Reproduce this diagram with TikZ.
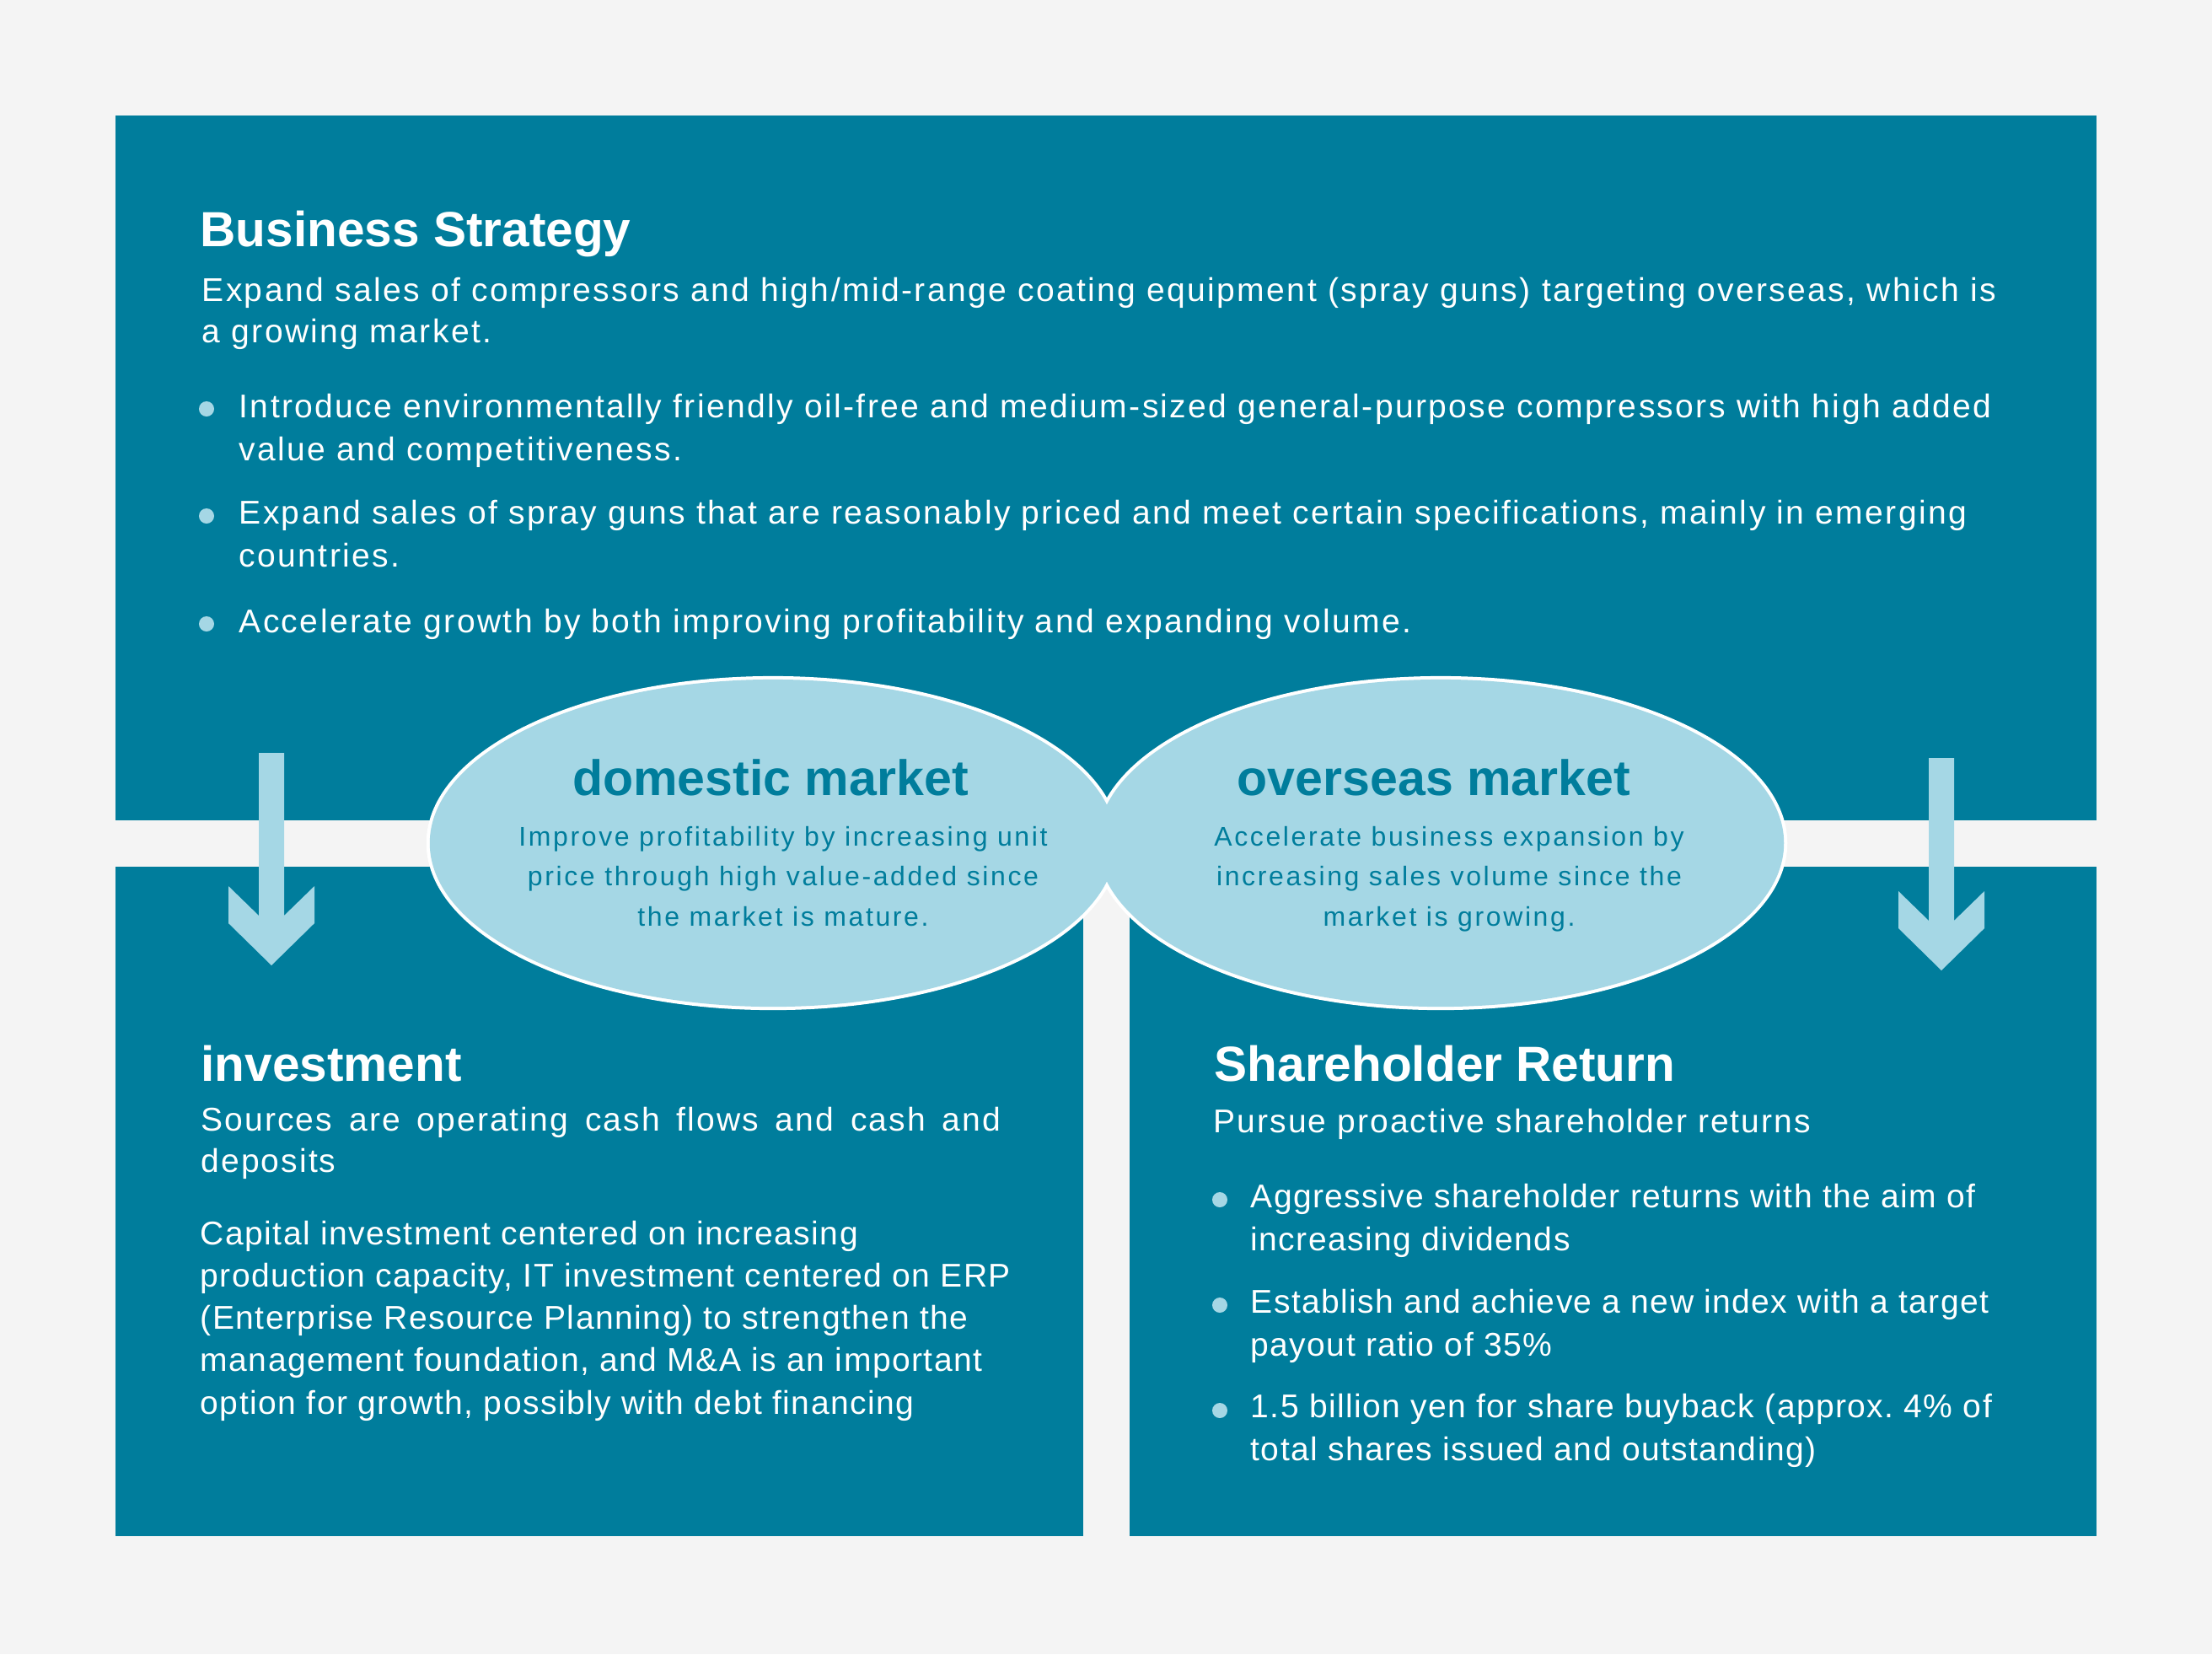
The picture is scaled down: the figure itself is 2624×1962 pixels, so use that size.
\documentclass[tikz,border=0pt]{standalone}
\usepackage{fontspec}
\setmainfont{Liberation Sans}
\usepackage{xcolor}
\usepackage{tikz}
\usetikzlibrary{positioning}

\definecolor{boxblue}{HTML}{007D9C}
\definecolor{paleblue}{HTML}{A5D7E5}
\definecolor{pagegray}{HTML}{F4F4F4}

\begin{document}
\frenchspacing
\begin{tikzpicture}[x=0.01cm,y=-0.01cm,
    boxhead/.style={anchor=base west,inner sep=0pt,text=white,font=\fontsize{16.65}{20}\selectfont\bfseries},
    boxbody/.style={anchor=base west,inner sep=0pt,text=white,align=left,
      font=\fontsize{11.1}{13.66}\selectfont\addfontfeature{LetterSpace=#1}},
    boxbody/.default=6.1,
    itemtext/.style={boxbody,font=\fontsize{11.1}{14.23}\selectfont\addfontfeature{LetterSpace=#1}},
    itemtext/.default=6.1,
    itemdot/.style={circle,fill=paleblue,inner sep=0pt,minimum size=0.18cm},
    mkthead/.style={anchor=base,inner sep=0pt,text=boxblue,font=\fontsize{16.8}{20}\selectfont\bfseries},
    mktbody/.style={anchor=base,inner sep=0pt,text=boxblue,align=center,
      font=\fontsize{9.1}{13.5}\selectfont\addfontfeature{LetterSpace=8.2}}]
    % Background and panels
    \fill[pagegray] (0,0) rectangle (2624,1962);
    \fill[boxblue] (137,137) rectangle (2487,973);
    \fill[boxblue] (137,1028) rectangle (1285,1822);
    \fill[boxblue] (1340,1028) rectangle (2487,1822);

    % Down arrows
    \foreach \ax/\ay in {322/893,2303/899}
      \fill[paleblue] (\ax-15,\ay) -- ++(30,0) -- ++(0,193) -- ++(36,-35) -- ++(0,44)
        -- ++(-51,50) -- ++(-51,-50) -- ++(0,-44) -- ++(36,35) -- cycle;

    % Market ellipses
    \foreach \cx in {917,1709}
      \filldraw[fill=paleblue,draw=white,line width=0.08cm] (\cx,1000) ellipse [x radius=4.07cm,y radius=1.94cm];
    \foreach \cx in {917,1709}
      \fill[paleblue] (\cx,1000) ellipse [x radius=4.07cm,y radius=1.94cm];

    % Business strategy (multi-line nodes sit on their last baseline)
    \node[boxhead] (bshead) at (237,292) {Business Strategy};
    \node[boxbody] (bsintro) at (239,406) {Expand sales of compressors and high/mid-range coating equipment (spray guns) targeting overseas, which is\\a growing market.};
    \node[itemdot] (bsdot1) at (245,485) {};
    \node[itemtext] (bsitem1) at (283,546) {Introduce environmentally friendly oil-free and medium-sized general-purpose compressors with high added\\value and competitiveness.};
    \node[itemdot] (bsdot2) at (245,612) {};
    \node[itemtext] (bsitem2) at (283,672) {Expand sales of spray guns that are reasonably priced and meet certain specifications, mainly in emerging\\countries.};
    \node[itemdot] (bsdot3) at (245,740) {};
    \node[itemtext] (bsitem3) at (283,750) {Accelerate growth by both improving profitability and expanding volume.};

    % Markets
    \node[mkthead] (domhead) at (914,943) {domestic market};
    \node[mktbody] (dombody) at (929,1098) {Improve profitability by increasing unit\\price through high value-added since\\the market is mature.};
    \node[mkthead] (ovshead) at (1701,943) {overseas market};
    \node[mktbody] (ovsbody) at (1719,1098) {Accelerate business expansion by\\increasing sales volume since the\\market is growing.};

    % Investment
    \node[boxhead] (invhead) at (238,1282) {investment};
    \node[boxbody=5.3] (invsrc) at (238,1390) {\makebox[9.48cm][s]{Sources are operating cash flows and cash and}\\deposits};
    \node[itemtext=3.8] (invtext) at (237,1677) {Capital investment centered on increasing\\production capacity, IT investment centered on ERP\\(Enterprise Resource Planning) to strengthen the\\management foundation, and M\&A is an important\\option for growth, possibly with debt financing};

    % Shareholder return
    \node[boxhead] (shhead) at (1440,1282) {Shareholder Return};
    \node[boxbody=5.3] (shintro) at (1439,1343) {Pursue proactive shareholder returns};
    \node[itemdot] (shdot1) at (1447,1423) {};
    \node[itemtext=3.6] (shitem1) at (1483,1483) {Aggressive shareholder returns with the aim of\\increasing dividends};
    \node[itemdot] (shdot2) at (1447,1548) {};
    \node[itemtext=3.6] (shitem2) at (1483,1608) {Establish and achieve a new index with a target\\payout ratio of 35\%};
    \node[itemdot] (shdot3) at (1447,1673) {};
    \node[itemtext=3.6] (shitem3) at (1483,1732) {1.5 billion yen for share buyback (approx. 4\% of\\total shares issued and outstanding)};
\end{tikzpicture}
\end{document}
